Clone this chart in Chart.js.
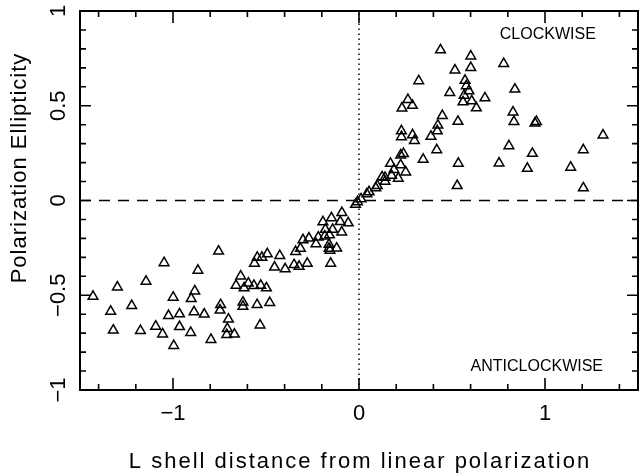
<!DOCTYPE html>
<html><head><meta charset="utf-8">
<script src="https://cdn.jsdelivr.net/npm/chart.js@4.4.1/dist/chart.umd.min.js"></script>
<style>html,body{margin:0;padding:0;background:#fff}#wrap{width:639px;height:475px;position:relative}</style>
</head><body><div id="wrap"><canvas id="c" width="639" height="475"></canvas></div>
<script>
// L shell distance (x) and polarization ellipticity (y)
const distance = [
 -1.430,-1.299,-1.335,-1.321,-1.222,-1.175,-1.145,-1.093,-1.048,-1.056,
 -1.024,-0.999,-0.996,-0.965,-0.965,-0.902,-0.883,-0.887,-0.905,-0.866,
 -0.832,-0.796,-0.755,-0.744,-0.747,-0.702,-0.708,-0.711,-0.670,-0.636,
 -0.661,-0.618,-0.595,-0.565,-0.528,-0.498,-0.624,-0.624,-0.548,-0.480,
 -0.532,-0.562,-0.547,-0.522,-0.493,-0.426,-0.454,-0.397,-0.349,-0.322,
 -0.278,-0.341,-0.315,-0.301,-0.269,-0.231,-0.219,
 -0.194,-0.181,-0.184,-0.148,-0.142,-0.159,-0.161,-0.161,-0.156,-0.120,
 -0.152,-0.101,-0.092,-0.058,-0.093,
 -0.019,-0.008,0.011,0.042,0.054,0.090,0.098,0.124,0.140,0.140,
 0.169,0.188,0.175,0.211,0.224,0.251,0.224,0.239,0.228,0.228,
 0.288,0.298,0.345,0.387,0.418,0.421,0.424,0.448,0.231,0.263,
 0.287,0.321,0.438,0.488,0.532,0.534,0.528,0.570,0.577,0.591,
 0.565,0.559,0.606,0.631,0.677,0.601,0.516,0.601,0.778,0.838,
 0.828,0.833,0.946,0.954,1.312,0.806,0.932,1.206,0.753,0.905,
 1.138,1.206
];
const ellipticity = [
 -0.506,-0.457,-0.585,-0.685,-0.555,-0.687,-0.427,-0.664,-0.329,-0.705,
 -0.608,-0.511,-0.766,-0.599,-0.666,-0.518,-0.478,-0.588,-0.697,-0.369,
 -0.600,-0.734,-0.268,-0.550,-0.579,-0.627,-0.676,-0.708,-0.706,-0.399,
 -0.448,-0.462,-0.437,-0.449,-0.448,-0.462,-0.537,-0.559,-0.550,-0.539,
 -0.658,-0.332,-0.300,-0.300,-0.282,-0.291,-0.352,-0.361,-0.339,-0.348,
 -0.332,-0.270,-0.253,-0.208,-0.199,-0.229,-0.194,
 -0.113,-0.153,-0.188,-0.092,-0.153,-0.182,-0.232,-0.253,-0.263,-0.252,
 -0.332,-0.112,-0.064,-0.119,-0.167,
 -0.021,-0.007,0.008,0.034,0.045,0.066,0.078,0.124,0.121,0.100,
 0.195,0.163,0.132,0.117,0.187,0.150,0.239,0.247,0.336,0.367,
 0.346,0.316,0.217,0.338,0.267,0.367,0.397,0.448,0.487,0.532,
 0.501,0.631,0.794,0.569,0.417,0.196,0.078,0.634,0.605,0.578,
 0.555,0.520,0.525,0.488,0.541,0.762,0.688,0.701,0.722,0.587,
 0.466,0.416,0.408,0.416,0.345,0.288,0.248,0.267,0.197,0.169,
 0.175,0.066
];
const xMajorTicks = [-1, 0, 1];
const xTickLabels = ['\u22121', '0', '1'];
const xMinorTicks = [-1.4,-1.2,-0.8,-0.6,-0.4,-0.2,0.2,0.4,0.6,0.8,1.2,1.4];
const yMajorTicks = [-1, -0.5, 0, 0.5, 1];
const yTickLabels = ['\u22121', '\u22120.5', '0', '0.5', '1'];
const yMinorTicks = [-0.9,-0.8,-0.7,-0.6,-0.4,-0.3,-0.2,-0.1,0.1,0.2,0.3,0.4,0.6,0.7,0.8,0.9];
const xTitle = 'L shell distance from linear polarization';
const yTitle = 'Polarization Ellipticity';
const annotations = [
  {text: 'CLOCKWISE', x: 1.015, y: 0.874},
  {text: 'ANTICLOCKWISE', x: 0.956, y: -0.876}
];

const FONT = '"Liberation Sans", Arial, Helvetica, sans-serif';

const framePlugin = {
  id: 'frame',
  afterDraw(chart) {
    const ctx = chart.ctx, a = chart.chartArea;
    const xs = chart.scales.x, ys = chart.scales.y;
    ctx.save();
    ctx.strokeStyle = '#000';
    ctx.lineWidth = 2;
    ctx.strokeRect(a.left, a.top, a.right - a.left, a.bottom - a.top);
    ctx.lineWidth = 1.6;
    ctx.beginPath();
    const xt = (vals, len) => vals.forEach(v => {
      const p = xs.getPixelForValue(v);
      ctx.moveTo(p, a.bottom); ctx.lineTo(p, a.bottom - len);
      ctx.moveTo(p, a.top); ctx.lineTo(p, a.top + len);
    });
    const yt = (vals, len) => vals.forEach(v => {
      const p = ys.getPixelForValue(v);
      ctx.moveTo(a.left, p); ctx.lineTo(a.left + len, p);
      ctx.moveTo(a.right, p); ctx.lineTo(a.right - len, p);
    });
    xt(xMajorTicks, 12); xt(xMinorTicks, 6);
    yt(yMajorTicks, 11); yt(yMinorTicks, 6);
    ctx.stroke();

    ctx.fillStyle = '#000';
    ctx.font = '22px ' + FONT;
    ctx.textAlign = 'center';
    ctx.textBaseline = 'middle';
    xMajorTicks.forEach((v, i) => ctx.fillText(xTickLabels[i], xs.getPixelForValue(v), 414));
    yMajorTicks.forEach((v, i) => {
      ctx.save();
      ctx.translate(59, ys.getPixelForValue(v));
      ctx.rotate(-Math.PI / 2);
      ctx.fillText(yTickLabels[i], 0, 0);
      ctx.restore();
    });

    ctx.font = '22px ' + FONT;
    ctx.letterSpacing = '2px';
    ctx.fillText(xTitle, (a.left + a.right) / 2 + 1, 462);
    ctx.save();
    ctx.translate(20, 168);
    ctx.rotate(-Math.PI / 2);
    ctx.letterSpacing = '1px';
    ctx.fillText(yTitle, 0, 0);
    ctx.restore();

    ctx.letterSpacing = '0px';
    ctx.font = '16px ' + FONT;
    annotations.forEach(t => ctx.fillText(t.text, xs.getPixelForValue(t.x), ys.getPixelForValue(t.y)));
    ctx.restore();
  }
};

new Chart(document.getElementById('c'), {
  type: 'scatter',
  data: {
    datasets: [
      {
        label: 'ellipticity',
        data: distance.map((x, i) => ({x, y: ellipticity[i]})),
        pointStyle: 'triangle',
        pointRadius: 5.6,
        pointHoverRadius: 5.6,
        borderColor: '#000',
        backgroundColor: 'rgba(0,0,0,0)',
        borderWidth: 1.5,
        showLine: false,
        order: 1
      },
      {
        type: 'line',
        label: 'zero',
        data: [{x: -1.5, y: 0}, {x: 1.5, y: 0}],
        borderColor: '#000',
        borderWidth: 1.5,
        borderDash: [11, 8],
        pointRadius: 0,
        fill: false,
        order: 2
      },
      {
        type: 'line',
        label: 'linear',
        data: [{x: 0, y: -1}, {x: 0, y: 1}],
        borderColor: '#000',
        borderWidth: 1.5,
        borderDash: [1.5, 3.5],
        pointRadius: 0,
        fill: false,
        order: 3
      }
    ]
  },
  options: {
    responsive: false,
    animation: false,
    devicePixelRatio: 1,
    layout: {autoPadding: false, padding: {top: 11, right: 1, left: 0, bottom: 0}},
    plugins: {legend: {display: false}, tooltip: {enabled: false}},
    scales: {
      x: {
        type: 'linear', min: -1.5, max: 1.5,
        grid: {display: false}, border: {display: false},
        ticks: {display: false},
        afterFit: s => { s.height = 85; }
      },
      y: {
        type: 'linear', min: -1, max: 1,
        grid: {display: false}, border: {display: false},
        ticks: {display: false},
        afterFit: s => { s.width = 80; }
      }
    }
  },
  plugins: [framePlugin]
});
</script></body></html>
